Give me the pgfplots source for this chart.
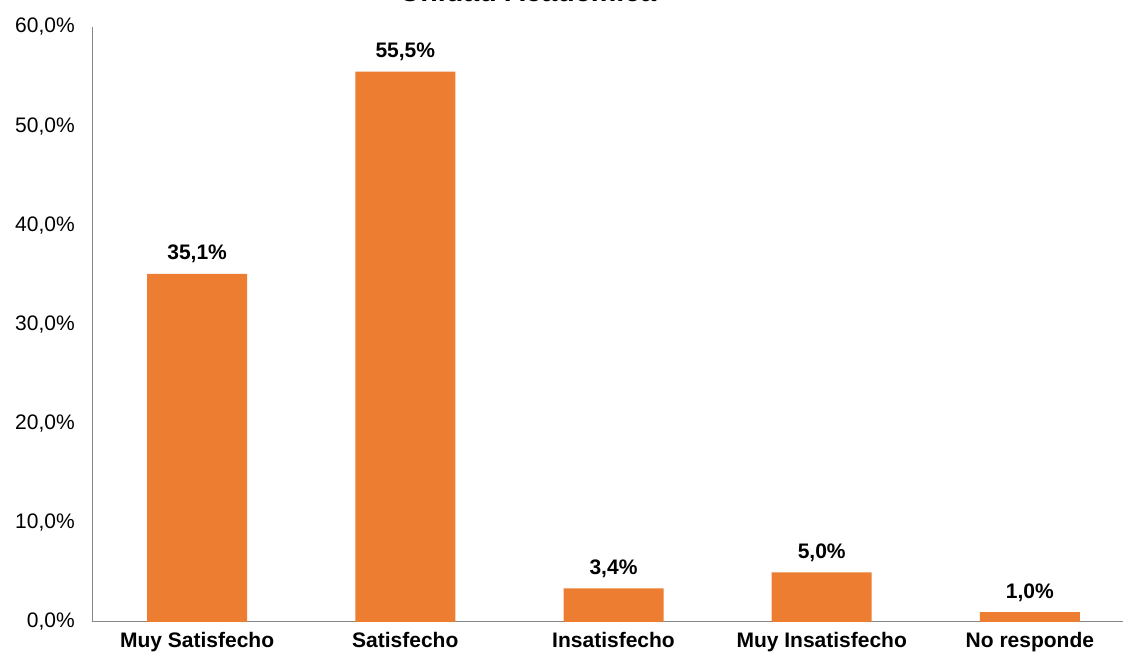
\documentclass[border=0pt]{standalone}
\usepackage{pgfplots}
\pgfplotsset{compat=1.18}
\usepackage{fontspec}
\setmainfont{Liberation Sans}
\definecolor{barc}{HTML}{ED7D31}
\definecolor{axgray}{HTML}{868686}
\begin{document}
\begin{tikzpicture}
\begin{axis}[
  at={(69.75pt,24.75pt)}, anchor=south west,
  scale only axis, width=780.75pt, height=446.25pt,
  xmin=-0.5, xmax=4.5, ymin=0, ymax=60,
  ybar, bar width=75pt,
  clip=false,
  axis x line*=bottom, axis y line*=left,
  axis line style={axgray, line width=0.75pt, -},
  major tick length=0pt,
  /pgf/number format/assume math mode=true,
  ytick={0,10,20,30,40,50,60},
  yticklabel={\pgfmathprintnumber[fixed,fixed zerofill,precision=1,use comma]{\tick}\%},
  yticklabel style={font=\fontsize{15.75}{18}\selectfont, inner sep=0pt, xshift=-13.5pt},
  xtick=data,
  xticklabels={Muy Satisfecho, Satisfecho, Insatisfecho, Muy Insatisfecho, No responde},
  xticklabel style={font=\bfseries\fontsize{15.75}{18}\selectfont, inner sep=0pt, yshift=-7.5pt},
  nodes near coords={\pgfmathprintnumber[fixed,fixed zerofill,precision=1,use comma]{\pgfplotspointmeta}\%},
  every node near coord/.append style={font=\bfseries\fontsize{15.75}{18}\selectfont, anchor=base, yshift=10.5pt, text=black},
]
\addplot[fill=barc, draw=none] coordinates {(0,35.1) (1,55.5) (2,3.4) (3,5.0) (4,1.0)};
\end{axis}
\node[anchor=base, font=\bfseries\fontsize{21.5}{24}\selectfont] at (396pt,489.9pt) {Unidad Académica};
\pgfresetboundingbox
\useasboundingbox (0,0) rectangle (842.25pt,491.25pt);
\end{tikzpicture}
\end{document}
